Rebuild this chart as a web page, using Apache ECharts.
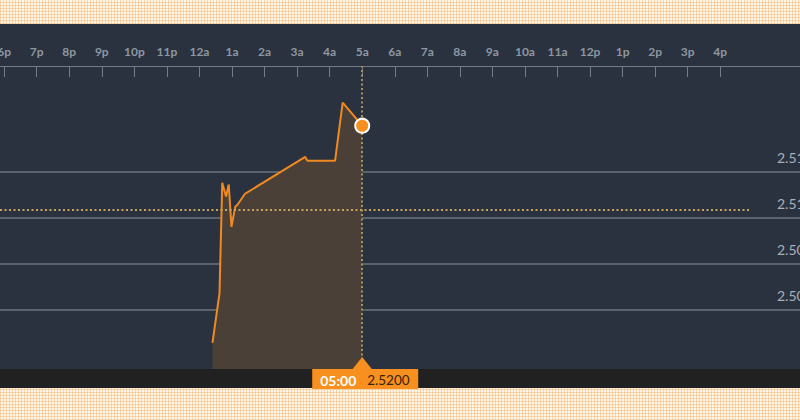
<!DOCTYPE html>
<html>
<head>
<meta charset="utf-8">
<script src="https://cdn.jsdelivr.net/npm/echarts@6/dist/echarts.min.js"></script>
<style>
  html, body { margin:0; padding:0; width:800px; height:420px; overflow:hidden; }
  body {
    background-color:#fff6ea;
    background-image:
      repeating-linear-gradient(0deg, rgba(244,186,120,0.55) 0 1px, transparent 1px 3px),
      repeating-linear-gradient(90deg, rgba(244,186,120,0.55) 0 1px, transparent 1px 3px);
    position:relative;
  }
  #panel { position:absolute; left:0; top:24px; width:800px; height:345px; background:#29323e; }
  #strip { position:absolute; left:0; top:369px; width:800px; height:19px; background:#212121; }
  #chart { position:absolute; left:0; top:0; width:800px; height:420px; }
</style>
</head>
<body>
<div id="panel"></div>
<div id="strip"></div>
<div id="chart"></div>
<script>
// ---- data ----
const tickLabels = ['6p','7p','8p','9p','10p','11p','12a','1a','2a','3a','4a','5a','6a','7a','8a','9a','10a','11a','12p','1p','2p','3p','4p'];
const times  = ['00:24','00:37','00:42','00:49','00:54','00:59','01:06','01:10','01:24','03:15','03:19','04:10','04:24','05:00'];
const prices = [2.4964, 2.5018, 2.5138, 2.5123, 2.5136, 2.5090, 2.5112, 2.5114, 2.5126, 2.5166, 2.5162, 2.5162, 2.5225, 2.5200];
const gridValues = [2.500, 2.505, 2.510, 2.515];
const prevClose = 2.5109;
const prevCloseEnd = '16:55';

// hours since 6p
function toHours(t) {
  const [h, m] = t.split(':').map(Number);
  return ((h - 18 + 24) % 24) + m / 60;
}
const tickValues = tickLabels.map((_, i) => i);
const lineData = times.map((t, i) => [toHours(t), prices[i]]);
const last = lineData[lineData.length - 1];
const lastTime = times[times.length - 1];
const lastPrice = prices[prices.length - 1];

const X_MIN = -0.1275, X_MAX = 24.45;
const Y_MIN = 2.49355, Y_MAX = 2.52649;

const ORANGE = '#f0891f';
const chart = echarts.init(document.getElementById('chart'), null, { renderer: 'svg' });
chart.setOption({
  backgroundColor: 'transparent',
  animation: false,
  textStyle: { fontFamily: 'Lato' },
  grid: { left: 0, right: 0, top: 66, bottom: 51, containLabel: false, outerBoundsMode: 'none' },
  xAxis: {
    type: 'value', position: 'top', min: X_MIN, max: X_MAX,
    axisLine: { show: true, lineStyle: { color: '#737b86', width: 1 } },
    axisTick: { show: true, inside: true, length: 11, customValues: tickValues, lineStyle: { color: '#737b86' } },
    axisLabel: {
      customValues: tickValues, margin: 9, color: '#8e97a2', fontSize: 12, fontWeight: 'bold', fontFamily: 'Lato',
      hideOverlap: false,
      formatter: v => tickLabels[Math.round(v)] || ''
    },
    splitLine: { show: false }
  },
  yAxis: {
    type: 'value', position: 'right', min: Y_MIN, max: Y_MAX,
    axisLine: { show: false },
    axisTick: { show: false, customValues: gridValues },
    axisLabel: {
      customValues: gridValues, inside: true, align: 'left', margin: 23,
      verticalAlign: 'bottom', lineHeight: 29,
      color: '#a9b0b8', fontSize: 14, fontFamily: 'Lato',
      formatter: v => v.toFixed(3)
    },
    splitLine: { show: true, lineStyle: { color: '#6c737d', width: 1.5 } }
  },
  series: [
    {
      type: 'line', data: lineData, showSymbol: false, smooth: false,
      lineStyle: { color: ORANGE, width: 2 },
      areaStyle: { color: '#4a4038', opacity: 1, origin: 'start' },
      z: 3,
      markLine: {
        silent: true, symbol: 'none', label: { show: false },
        data: [
          [{ coord: [X_MIN, prevClose], lineStyle: { color: '#c9a45c', type: [2, 2.5], width: 2 } },
           { coord: [toHours(prevCloseEnd), prevClose] }],
          { xAxis: last[0], lineStyle: { color: '#a8925a', type: [2, 2.5], width: 2 } }
        ]
      }
    },
    {
      type: 'scatter', data: [last], symbolSize: 14, z: 5,
      itemStyle: { color: '#f7901e', borderColor: '#ffffff', borderWidth: 2, opacity: 1 }
    },
    {
      type: 'custom', clip: false, z: 10, silent: true,
      data: [last],
      renderItem: function (params, api) {
        const p = api.coord([api.value(0), api.value(1)]);
        const cx = p[0];
        const by = params.coordSys.y + params.coordSys.height;
        return {
          type: 'group',
          children: [
            { type: 'polygon', shape: { points: [[cx, by - 12], [cx - 10, by + 0.5], [cx + 10, by + 0.5]] }, style: { fill: '#f7901e' } },
            { type: 'rect', shape: { x: cx - 50, y: by, width: 106, height: 20 }, style: { fill: '#f7901e' } },
            { type: 'text', x: cx - 42, y: by + 11, style: { text: lastTime, fill: '#ffffff', font: 'bold 14px Lato', textAlign: 'left', textVerticalAlign: 'middle' } },
            { type: 'text', x: cx + 5, y: by + 11, style: { text: lastPrice.toFixed(4), fill: '#3a230c', font: '13.5px Lato', textAlign: 'left', textVerticalAlign: 'middle' } }
          ]
        };
      }
    }
  ]
});
</script>
</body>
</html>
